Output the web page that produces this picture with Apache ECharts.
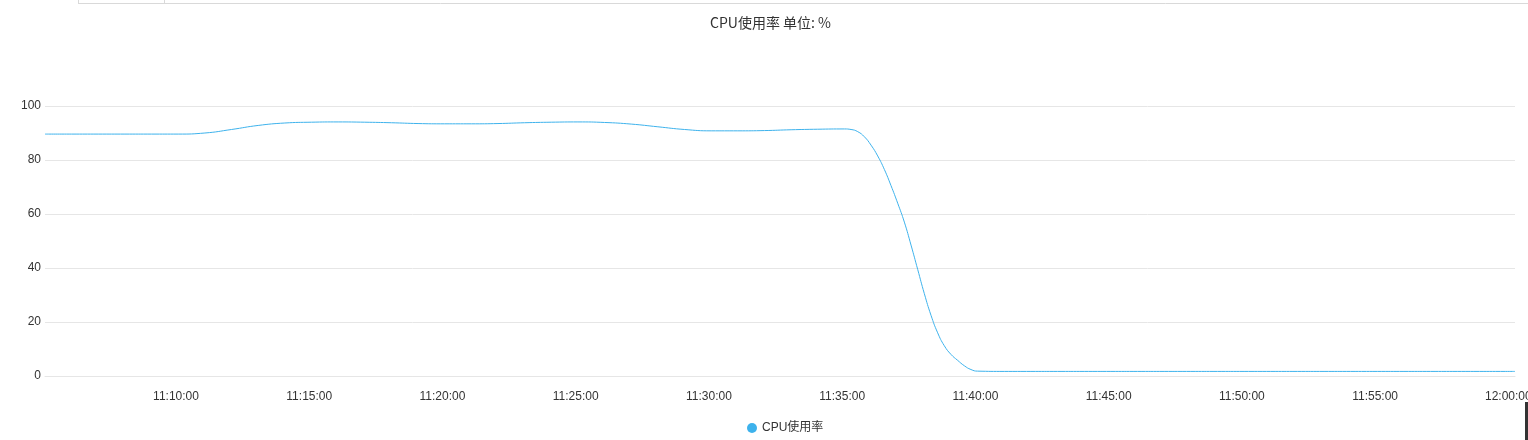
<!DOCTYPE html>
<html>
<head>
<meta charset="utf-8">
<script src="https://cdn.jsdelivr.net/npm/echarts@6/dist/echarts.min.js"></script>
<style>html,body{margin:0;padding:0;background:#fff;overflow:hidden;}#c{width:1528px;height:440px;}</style>
</head>
<body>
<div id="c"></div>
<script>
const titleText = 'CPU使用率 单位: %';
const seriesName = 'CPU使用率';
const times = [
  '11:05:05','11:06:05','11:07:05','11:08:05','11:09:05','11:10:05','11:11:05','11:12:05','11:13:05','11:14:05',
  '11:15:05','11:16:05','11:17:05','11:18:05','11:19:05','11:20:05','11:21:05','11:22:05','11:23:05','11:24:05',
  '11:25:05','11:26:05','11:27:05','11:28:05','11:29:05','11:30:05','11:31:05','11:32:05','11:33:05','11:34:05',
  '11:35:05','11:35:20','11:35:35','11:35:50','11:36:05','11:36:20','11:36:35','11:36:50','11:37:05','11:37:20',
  '11:37:35','11:37:50','11:38:05','11:38:20','11:38:35','11:38:50','11:39:05','11:39:20','11:39:35','11:39:50',
  '11:40:05','11:41:05','11:42:05','11:43:05','11:44:05','11:45:05','11:46:05','11:47:05','11:48:05','11:49:05',
  '11:50:05','11:51:05','11:52:05','11:53:05','11:54:05','11:55:05','11:56:05','11:57:05','11:58:05','11:59:05',
  '12:00:15'
];
const cpuValues = [
  89.6,89.6,89.6,89.6,89.6,89.6,90.0,91.3,92.8,93.7,
  94.0,94.1,94.0,93.8,93.5,93.4,93.4,93.5,93.8,94.0,
  94.1,93.9,93.3,92.3,91.3,90.8,90.8,90.9,91.2,91.4,
  91.5,91.3,90.5,88.6,85.5,81.5,76.5,70.5,64.0,57.0,
  48.5,39.5,30.5,22.5,16.0,11.2,8.0,5.8,3.8,2.4,
  1.8,1.7,1.7,1.7,1.7,1.7,1.7,1.7,1.7,1.7,
  1.7,1.7,1.7,1.7,1.7,1.7,1.7,1.7,1.7,1.7,
  1.7
];
const yTicks = [0, 20, 40, 60, 80, 100];

const day = '2024-01-01 ';
const toTs = t => new Date(day + t).getTime();
const data = times.map((t, i) => [toTs(t), cpuValues[i]]);
const pad = n => (n < 10 ? '0' : '') + n;

const chart = echarts.init(document.getElementById('c'), null, { width: 1528, height: 440 });
chart.setOption({
  animation: false,
  color: ['#3db2ec'],
  title: {
    text: titleText, left: 705, top: 11,
    textStyle: { fontSize: 14, fontWeight: 'normal', color: '#333', fontFamily: 'Noto Sans CJK SC' }
  },
  legend: {
    bottom: 1, left: 742, icon: 'circle', itemWidth: 10, itemHeight: 10, itemGap: 10,
    data: [seriesName],
    textStyle: { fontSize: 12, color: '#333', fontFamily: 'Liberation Sans, Noto Sans CJK SC' }
  },
  grid: { left: 45, right: 13, top: 106, bottom: 64, containLabel: false, outerBoundsMode: 'none' },
  xAxis: {
    type: 'time',
    min: toTs(times[0]), max: toTs(times[times.length - 1]),
    interval: 5 * 60 * 1000,
    splitNumber: 11,
    axisLine: { show: true, lineStyle: { color: '#e6e6e6' } },
    axisTick: { show: false },
    splitLine: { show: false },
    axisLabel: {
      margin: 15, fontSize: 12, color: '#333', fontFamily: 'Liberation Sans',
      showMinLabel: false, hideOverlap: false,
      formatter: v => { const d = new Date(v); return pad(d.getHours()) + ':' + pad(d.getMinutes()) + ':' + pad(d.getSeconds()); }
    }
  },
  yAxis: {
    type: 'value', min: yTicks[0], max: yTicks[yTicks.length - 1], interval: 20,
    axisLine: { show: false }, axisTick: { show: false },
    splitLine: { lineStyle: { color: '#e6e6e6' } },
    axisLabel: { margin: 4, fontSize: 12, color: '#333', fontFamily: 'Liberation Sans' }
  },
  series: [{
    name: seriesName, type: 'line', smooth: true, showSymbol: false, symbol: 'none',
    lineStyle: { width: 1, color: '#3db2ec' },
    data: data
  }],
  graphic: [
    { type: 'line', shape: { x1: 78, y1: 3.5, x2: 1528, y2: 3.5 }, style: { stroke: '#d9d9d9', lineWidth: 1 } },
    { type: 'line', shape: { x1: 78.5, y1: 0, x2: 78.5, y2: 4 }, style: { stroke: '#d9d9d9', lineWidth: 1 } },
    { type: 'line', shape: { x1: 164.5, y1: 0, x2: 164.5, y2: 4 }, style: { stroke: '#d9d9d9', lineWidth: 1 } },
    { type: 'rect', shape: { x: 1525, y: 402, width: 3, height: 38 }, style: { fill: '#333' } }
  ]
});
</script>
</body>
</html>
